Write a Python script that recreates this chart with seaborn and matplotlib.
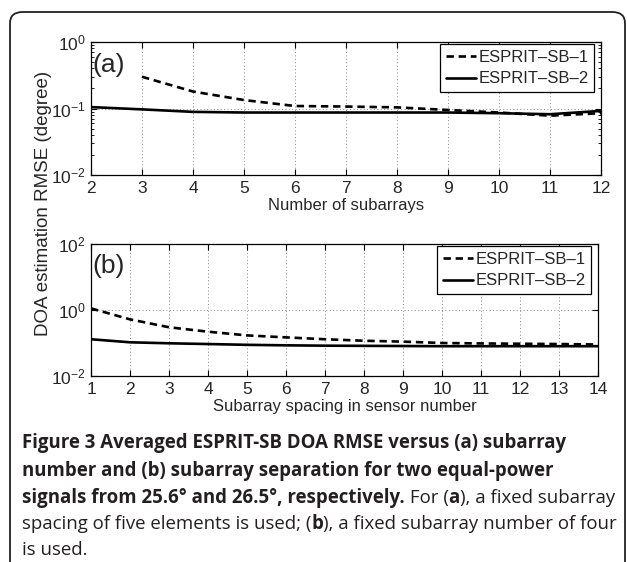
import numpy as np
import pandas as pd
import matplotlib
matplotlib.use("Agg")
import matplotlib.pyplot as plt
import matplotlib.ticker as mticker
from matplotlib.patches import FancyBboxPatch
import seaborn as sns

# values
a_x_sb1 = [3, 4, 5, 6, 7, 8, 9, 10, 11, 12]
a_sb1 = [0.30, 0.18, 0.134, 0.109, 0.107, 0.104, 0.095, 0.087, 0.078, 0.085]
a_x_sb2 = [2, 3, 4, 5, 6, 7, 8, 9, 10, 11, 12]
a_sb2 = [0.105, 0.097, 0.089, 0.087, 0.087, 0.087, 0.087, 0.087, 0.085, 0.082, 0.092]

b_x = [1, 2, 3, 4, 5, 6, 7, 8, 9, 10, 11, 12, 13, 14]
b_sb1 = [1.12, 0.52, 0.30, 0.22, 0.17, 0.148, 0.13, 0.117, 0.11, 0.10, 0.097, 0.095, 0.093, 0.09]
b_sb2 = [0.13, 0.105, 0.098, 0.093, 0.088, 0.085, 0.083, 0.082, 0.081, 0.08, 0.08, 0.08, 0.08, 0.08]

labels = ["ESPRIT–SB–1", "ESPRIT–SB–2"]
a_xticks = list(range(2, 13))
b_xticks = list(range(1, 15))

sns.set_style("ticks")
plt.rcParams["font.family"] = ["Liberation Sans", "DejaVu Sans"]
plt.rcParams["mathtext.fontset"] = "custom"
plt.rcParams["mathtext.rm"] = "Liberation Sans"

W, H = 627, 562
fig = plt.figure(figsize=(W / 100, H / 100), dpi=100)


def px_axes(left, top, right, bottom):
    return fig.add_axes([left / W, 1 - bottom / H, (right - left) / W, (bottom - top) / H])


# outer rounded frame, open at the bottom
frame = FancyBboxPatch((10 / W, -0.05), 615 / W, (H - 12) / H + 0.05,
                       boxstyle="round,pad=0,rounding_size=0.02",
                       transform=fig.transFigure, fill=False,
                       edgecolor="#222222", linewidth=1.3)
fig.patches.append(frame)

ax_a = px_axes(91, 42, 601, 175)
ax_b = px_axes(91, 244, 598, 376)

lw = 1.9
sns.lineplot(x=a_x_sb1, y=a_sb1, ax=ax_a, color="black", linewidth=lw,
             linestyle=(0, (2.8, 1.8)), label=labels[0])
sns.lineplot(x=a_x_sb2, y=a_sb2, ax=ax_a, color="black", linewidth=lw, label=labels[1])
sns.lineplot(x=b_x, y=b_sb1, ax=ax_b, color="black", linewidth=lw,
             linestyle=(0, (2.8, 1.8)), label=labels[0])
sns.lineplot(x=b_x, y=b_sb2, ax=ax_b, color="black", linewidth=lw, label=labels[1])

for ax, xt, ylim, tag in [(ax_a, a_xticks, (1e-2, 1), "(a)"), (ax_b, b_xticks, (1e-2, 1e2), "(b)")]:
    ax.set_yscale("log")
    ax.set_ylim(*ylim)
    ax.set_xlim(xt[0], xt[-1])
    ax.set_xticks(xt)
    ax.grid(True, which="major", linestyle=(0, (1, 2.5)), color="#888888", linewidth=0.7)
    ax.tick_params(which="both", direction="in", top=True, right=True,
                   labelsize=12.5, color="black", pad=4)
    ax.tick_params(which="major", length=4.5, width=0.8)
    ax.tick_params(which="minor", length=2.5, width=0.6)
    for s in ax.spines.values():
        s.set_linewidth(0.9)
        s.set_color("black")
    ax.text(0.003, 0.83, tag, transform=ax.transAxes, fontsize=19, va="center", ha="left")
    leg = ax.legend(loc="upper right", bbox_to_anchor=(0.987, 0.985), borderaxespad=0,
                    fontsize=12, fancybox=False, edgecolor="black", framealpha=1,
                    handlelength=1.8, handletextpad=0.15, borderpad=0.35, labelspacing=0.4)
    leg.get_frame().set_linewidth(0.9)

ax_b.yaxis.set_major_locator(mticker.FixedLocator([1e-2, 1, 1e2]))
ax_b.yaxis.set_minor_locator(mticker.NullLocator())

ax_a.set_xlabel("Number of subarrays", fontsize=12, labelpad=2)
ax_b.set_xlabel("Subarray spacing in sensor number", fontsize=12, labelpad=1.5)
fig.text(44 / W, 1 - 203 / H, "DOA estimation RMSE (degree)", rotation=90,
         fontsize=13.5, ha="center", va="center")

# caption, made of bold and regular segments
cap_font = ["Open Sans", "DejaVu Sans"]
cap_size = 13.4
cap_color = "#231f20"
lines = [
    [("Figure 3 Averaged ESPRIT-SB DOA RMSE versus (a) subarray", "bold")],
    [("number and (b) subarray separation for two equal-power", "bold")],
    [("signals from 25.6° and 26.5°, respectively.", "bold"), (" For (", "normal"),
     ("a", "bold"), ("), a fixed subarray", "normal")],
    [("spacing of five elements is used; (", "normal"), ("b", "bold"),
     ("), a fixed subarray number of four", "normal")],
    [("is used.", "normal")],
]
baselines = [448, 476, 503, 529, 555]
fig.canvas.draw()
renderer = fig.canvas.get_renderer()
for segs, yb in zip(lines, baselines):
    x = 22
    for txt, wt in segs:
        t = fig.text(x / W, 1 - yb / H, txt, family=cap_font, fontsize=cap_size,
                     fontweight=wt, color=cap_color, ha="left", va="baseline")
        x += t.get_window_extent(renderer).width

fig.savefig("out.png", dpi=100)
